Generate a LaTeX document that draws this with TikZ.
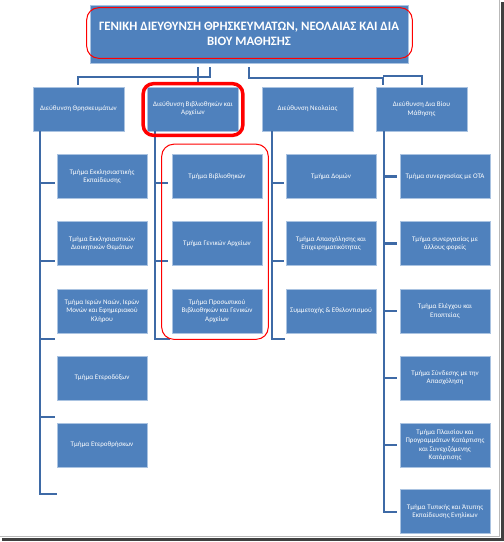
\documentclass[tikz,border=0pt]{standalone}
\usepackage{fontspec}
\setmainfont{Carlito}
\usetikzlibrary{positioning, calc}
\definecolor{boxblue}{RGB}{79,129,189}
\definecolor{boxedge}{RGB}{170,195,225}
\definecolor{lineblue}{RGB}{62,106,166}
\tikzset{
  unit/.style={draw=boxedge, fill=boxblue, line width=0.6pt, text=white, align=center,
    minimum width=90pt, minimum height=44pt, inner sep=1pt, font=\fontsize{7}{8.2}\selectfont},
  dept/.style={unit, minimum width=91pt},
  head/.style={unit, minimum width=318pt, minimum height=58pt, font=\fontsize{12.8}{15}\selectfont\bfseries},
  link/.style={lineblue, line width=2.5pt},
  redring/.style={red, line width=1pt, rounded corners=12pt}
}
\begin{document}
\begin{tikzpicture}[x=1pt, y=-1pt]
    \useasboundingbox (0,0) rectangle (504,542);
    % Frame shadow
    \draw[gray!55, line width=1pt] (499,0) -- (499,536.5) -- (0,536.5);
    \fill[black!75] (501,2) rectangle (504,541);
    \fill[black!75] (2,538) rectangle (504,541);

    % Head
    \node[head] (top) at (249,34) {ΓΕΝΙΚΗ ΔΙΕΥΘΥΝΣΗ ΘΡΗΣΚΕΥΜΑΤΩΝ, ΝΕΟΛΑΙΑΣ ΚΑΙ ΔΙΑ\\ΒΙΟΥ ΜΑΘΗΣΗΣ};

    % Directorates
    \node[dept] (d1) at (78.5,109) {Διεύθυνση Θρησκευμάτων};
    \node[dept] (d2) at (193,109) {Διεύθυνση Βιβλιοθηκών και\\Αρχείων};
    \node[dept] (d3) at (307.5,109) {Διεύθυνση Νεολαίας};
    \node[dept] (d4) at (421.5,109) {Διεύθυνση Δια Βίου\\Μάθησης};

    % Links from the head
    \coordinate (h1) at (210,67);
    \coordinate (h2) at (198,67);
    \coordinate (h3) at (249,67);
    \draw[link] (d1.north -| 78,0) ++(0,-2) -- (78,77) -- (210,77) -- (h1);
    \draw[link] (h2) -- (198,85);
    \draw[link] (h3) -- (249,78) -- (383,78) -- (383,85);
    \draw[link] (383,76) -- (422,76) -- (422,85);

    % Column 1
    \node[unit] (a1) at (102,176.5) {Τμήμα Εκκλησιαστικής\\Εκπαίδευσης};
    \node[unit] (a2) at (102,243.5) {Τμήμα Εκκλησιαστικών\\Διοικητικών Θεμάτων};
    \node[unit] (a3) at (102,311) {Τμήμα Ιερών Ναών, Ιερών\\Μονών και Εφημεριακού\\Κλήρου};
    \node[unit] (a4) at (102,378) {Τμήμα Ετεροδόξων};
    \node[unit] (a5) at (102,445) {Τμήμα Ετεροθρήσκων};
    \draw[link] (d1.south -| 40,0) -- (40,494) -- (57,494);
    \foreach \y in {183, 261, 339, 417} { \draw[link] (40,\y) -- ++(15,0); }

    % Column 2
    \node[unit] (b1) at (217,176.5) {Τμήμα Βιβλιοθηκών};
    \node[unit] (b2) at (217,243.5) {Τμήμα Γενικών Αρχείων};
    \node[unit] (b3) at (217,311) {Τμήμα Προσωπικού\\Βιβλιοθηκών και Γενικών\\Αρχείων};
    \draw[link] (d2.south -| 155,0) -- (155,339) -- (170,339);
    \foreach \y in {183, 261} { \draw[link] (155,\y) -- ++(13,0); }

    % Column 3
    \node[unit] (c1) at (331,176.5) {Τμήμα Δομών};
    \node[unit] (c2) at (331,243.5) {Τμήμα Απασχόλησης και\\Επιχειρηματικότητας};
    \node[unit] (c3) at (331,311) {Συμμετοχής \& Εθελοντισμού};
    \draw[link] (d3.south -| 272,0) -- (272,339) -- (285,339);
    \foreach \y in {183, 261} { \draw[link] (272,\y) -- ++(12,0); }

    % Column 4
    \node[unit] (e1) at (445,176.5) {Τμήμα συνεργασίας με ΟΤΑ};
    \node[unit] (e2) at (445,243.5) {Τμήμα συνεργασίας με\\άλλους φορείς};
    \node[unit] (e3) at (445,311) {Τμήμα Ελέγχου και\\Εποπτείας};
    \node[unit] (e4) at (445,378) {Τμήμα Σύνδεσης με την\\Απασχόληση};
    \node[unit] (e5) at (445,445) {Τμήμα Πλαισίου και\\Προγραμμάτων Κατάρτισης\\και Συνεχιζόμενης\\Κατάρτισης};
    \node[unit] (e6) at (445,511.5) {Τμήμα Τυπικής και Άτυπης\\Εκπαίδευσης Ενηλίκων};
    \draw[link] (d4.south -| 384,0) -- (384,512) -- (397,512);
    \foreach \y in {176.5, 243.5, 311, 378, 445} { \draw[link] (384,\y) -- ++(13,0); }

    % Red marks
    \draw[redring] ($(top.north west)+(-3,3)$) rectangle ($(top.south east)+(4,-5)$);
    \draw[redring, line width=3.5pt, rounded corners=10pt] ($(d2.north west)+(-4,-3)$) rectangle ($(d2.south east)+(4,4)$);
    \draw[redring] ($(b1.north west)+(-10,-10)$) rectangle ($(b3.south east)+(6,6)$);
\end{tikzpicture}
\end{document}
